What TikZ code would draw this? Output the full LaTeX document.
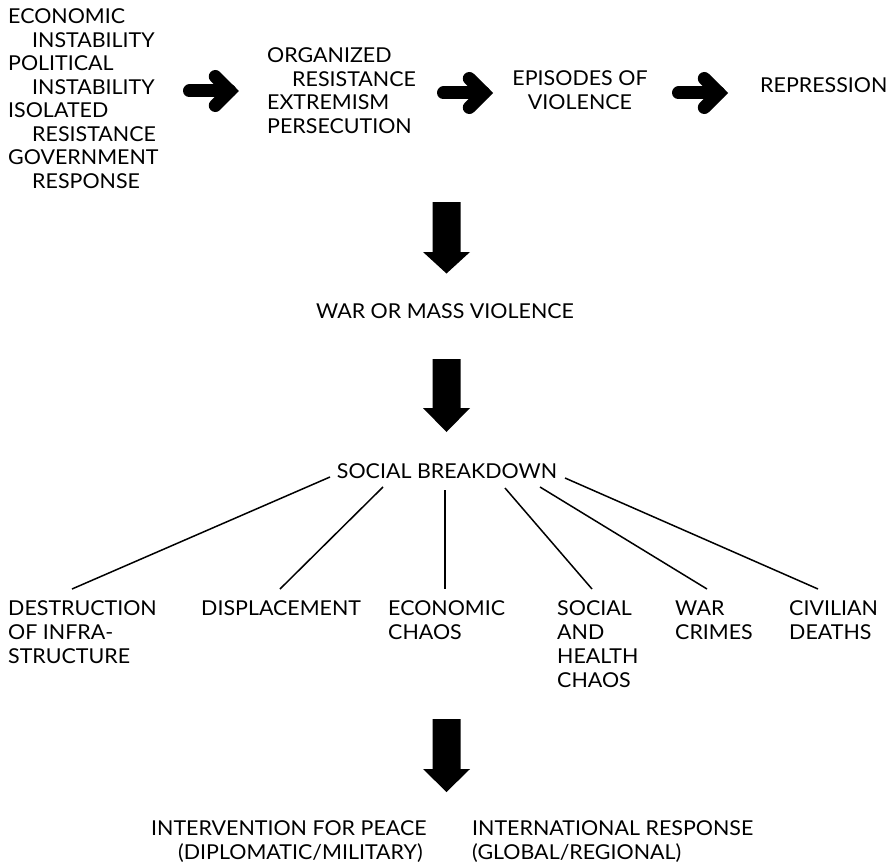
\documentclass[tikz,border=0pt]{standalone}
\usepackage{fontspec}
\setmainfont{Lato}[FakeStretch=1.045]
\newcommand\blkL[1]{\begin{tabular}[t]{@{}l@{}}#1\end{tabular}}
\newcommand\blkC[1]{\begin{tabular}[t]{@{}c@{}}#1\end{tabular}}
\begin{document}
\begin{tikzpicture}[x=1pt,y=-1pt,
  lbl/.style={anchor=base west, inner sep=0pt, font=\fontsize{20.5}{23.5}\selectfont},
  lblc/.style={anchor=base, inner sep=0pt, font=\fontsize{20.5}{23.5}\selectfont},
  lblb/.style={anchor=base west, inner sep=0pt, font=\fontsize{20.5}{24}\selectfont},
  fatline/.style={line width=13pt, line cap=round, line join=miter, miter limit=10},
  fan/.style={line width=1.5pt},
  rarr/.pic={\draw[fatline] (6.5,0) -- (46.8,0);
             \draw[fatline] (32.3,-14.5) -- (46.8,0) -- (32.3,14.5);}
]
\useasboundingbox (0,0) rectangle (890,864);

% top row
\node[lbl] (L) at (8,24) {\blkL{ECONOMIC\\ \hspace*{24pt}INSTABILITY\\ POLITICAL\\ \hspace*{24pt}INSTABILITY\\ ISOLATED\\ \hspace*{24pt}RESISTANCE\\ GOVERNMENT\\ \hspace*{24pt}RESPONSE}};
\node[lbl] (M) at (267,63) {\blkL{ORGANIZED\\ \hspace*{25pt}RESISTANCE\\ EXTREMISM\\ PERSECUTION}};
\node[lblc] (E) at (580,86) {\blkC{EPISODES OF\\ VIOLENCE}};
\node[lbl] (R) at (760,93) {REPRESSION};

\pic at (183,91) {rarr};
\pic at (437,93) {rarr};
\pic at (672,93) {rarr};

% down arrow 1
\fill (432.5,202) -- (460.5,202) -- (460.5,252) -- (470,252) -- (446.5,273.5) -- (423,252) -- (432.5,252) -- cycle;

\node[lblc] (W) at (445,318) {WAR OR MASS VIOLENCE};

% down arrow 2
\fill (432.5,359) -- (460.5,359) -- (460.5,408) -- (470,408) -- (446.5,432) -- (423,408) -- (432.5,408) -- cycle;

\node[lblc] (S) at (447,478) {SOCIAL BREAKDOWN};

% bottom row
\node[lblb] (D1) at (8,615) {\blkL{DESTRUCTION\\ OF INFRA-\\ STRUCTURE}};
\node[lblb] (D2) at (201,615) {DISPLACEMENT};
\node[lblb] (D3) at (388,615) {\blkL{ECONOMIC\\ CHAOS}};
\node[lblb] (D4) at (557,615) {\blkL{SOCIAL\\ AND\\ HEALTH\\ CHAOS}};
\node[lblb] (D5) at (675,615) {\blkL{WAR\\ CRIMES}};
\node[lblb] (D6) at (789,615) {\blkL{CIVILIAN\\ DEATHS}};

\coordinate (s1) at (330,477); \coordinate (e1) at (72,589);
\coordinate (s2) at (383,487); \coordinate (e2) at (280,589);
\coordinate (s3) at (445,490); \coordinate (e3) at (445,589);
\coordinate (s4) at (505,488); \coordinate (e4) at (592,589);
\coordinate (s5) at (540,487); \coordinate (e5) at (707,589);
\coordinate (s6) at (565,478); \coordinate (e6) at (818,589);
\foreach \i in {1,...,6} { \draw[fan] (s\i) -- (e\i); }

% down arrow 3
\fill (432.5,719) -- (460.5,719) -- (460.5,769) -- (470,769) -- (446.5,792) -- (423,769) -- (432.5,769) -- cycle;

\node[lblb] (I1) at (151,835) {\blkL{INTERVENTION FOR PEACE\\ \hspace*{27pt}(DIPLOMATIC/MILITARY)}};
\node[lblb] (I2) at (472,835) {\blkL{INTERNATIONAL RESPONSE\\ (GLOBAL/REGIONAL)}};
\end{tikzpicture}
\end{document}
